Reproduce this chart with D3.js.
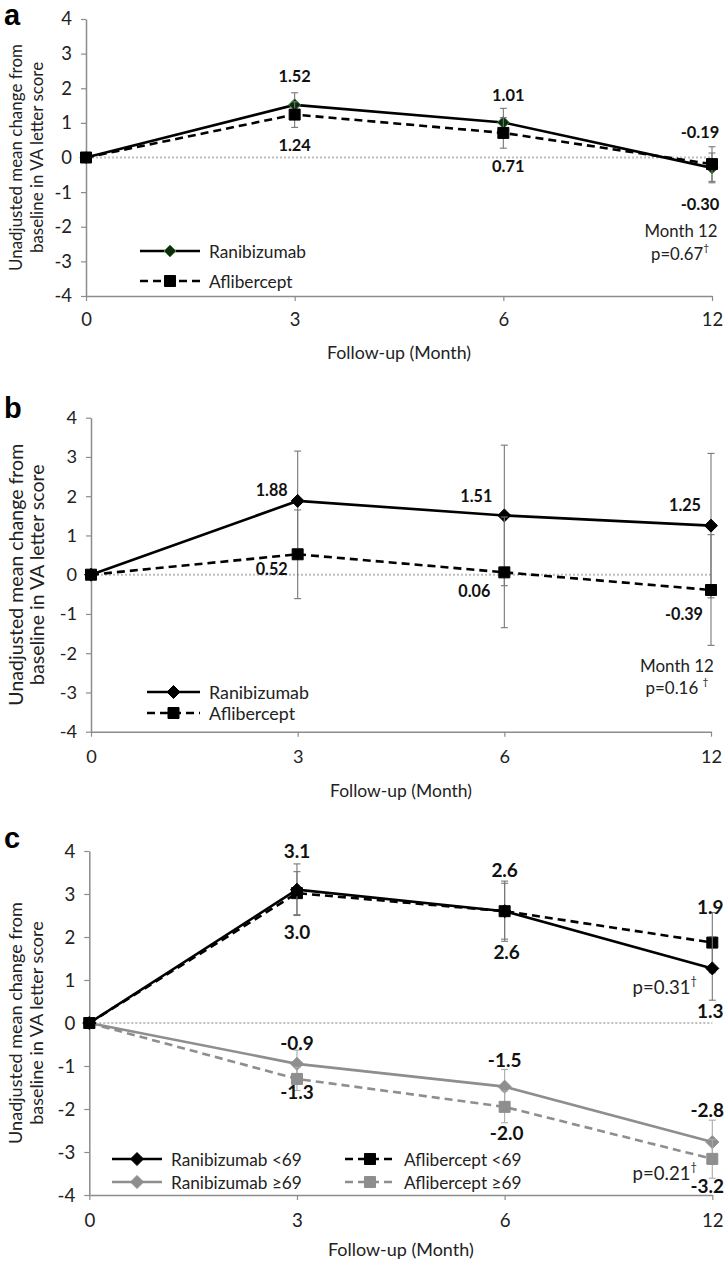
<!DOCTYPE html>
<html><head><meta charset="utf-8">
<script src="https://cdn.jsdelivr.net/npm/d3@7"></script>
<style>body{margin:0;background:#fff} svg{display:block}</style>
</head><body>
<svg id="chart" width="727" height="1261"></svg>
<script>
// ---------- data ----------
const months = ["0", "3", "6", "12"];
const yTicks = [-4, -3, -2, -1, 0, 1, 2, 3, 4];

// panel a
const aRan = [0, 1.52, 1.01, -0.30];
const aAfl = [0, 1.24, 0.71, -0.19];
const aRanErr = [0, 0.35, 0.41, 0.43];
const aAflErr = [0, 0.37, 0.44, 0.50];
const aRanLabels = ["", "1.52", "1.01", "-0.30"];
const aAflLabels = ["", "1.24", "0.71", "-0.19"];

// panel b
const bRan = [0, 1.88, 1.51, 1.25];
const bAfl = [0, 0.52, 0.06, -0.39];
const bRanErr = [0, 1.27, 1.79, 1.84];
const bAflErr = [0, 1.13, 1.41, 1.41];
const bRanLabels = ["", "1.88", "1.51", "1.25"];
const bAflLabels = ["", "0.52", "0.06", "-0.39"];

// panel c
const cRanLt = [0, 3.10, 2.60, 1.27];
const cAflLt = [0, 3.02, 2.60, 1.87];
const cRanGe = [0, -0.95, -1.48, -2.77];
const cAflGe = [0, -1.30, -1.95, -3.16];
const cRanLtErr = [0, 0.60, 0.70, 0.74];
const cAflLtErr = [0, 0.50, 0.65, 0.70];
const cRanGeErr = [0, 0.32, 0.40, 0.51];
const cAflGeErr = [0, 0.27, 0.37, 0.45];
const cRanLtLabels = ["", "3.1", "2.6", "1.3"];
const cAflLtLabels = ["", "3.0", "2.6", "1.9"];
const cRanGeLabels = ["", "-0.9", "-1.5", "-2.8"];
const cAflGeLabels = ["", "-1.3", "-2.0", "-3.2"];

const yTitle1 = "Unadjusted mean change from";
const yTitle2 = "baseline in VA letter score";
const xTitle = "Follow-up (Month)";

// ---------- helpers ----------
const FONT = "Lato, 'Open Sans', sans-serif";
const svg = d3.select("#chart");

// font size such that `txt` is `target` px wide
function fit(txt, target, weight) {
  const t = svg.append("text").attr("font-family", FONT).attr("font-size", 100)
    .attr("font-weight", weight || "normal").text(txt);
  const w = t.node().getComputedTextLength();
  t.remove();
  return 100 * target / w;
}

function diamond(r) { return `M0,${-r}L${r},0L0,${r}L${-r},0Z`; }
function square(r) { return `M${-r},${-r}H${r}V${r}H${-r}Z`; }

function makePanel(cfg) {
  const g = svg.append("g");
  const x = d3.scalePoint().domain(months).range([cfg.x0, cfg.x1]);
  const y = d3.scaleLinear().domain([-4, 4]).range([cfg.yBot, cfg.yTop]);
  const fs = fit(xTitle, cfg.xTitleW);
  const tfs = fit(yTitle1, cfg.yTitleW);

  // panel letter
  svg.append("text").attr("x", 4).attr("y", cfg.letterY)
    .attr("font-family", "'Liberation Sans', Arial, sans-serif")
    .attr("font-weight", "bold").attr("font-size", 29).attr("fill", "#000")
    .text(cfg.letter);

  // y axis
  const ya = g.append("g").attr("transform", `translate(${cfg.x0},0)`)
    .call(d3.axisLeft(y).tickValues(yTicks).tickSize(5).tickSizeOuter(0).tickPadding(9)
      .tickFormat(d => String(d)));
  ya.select(".domain").attr("stroke", "#8c8c8c").attr("stroke-width", 1.5);
  ya.selectAll(".tick line").attr("stroke", "#8c8c8c").attr("stroke-width", 1.2);
  ya.selectAll(".tick text").attr("font-family", FONT).attr("font-size", fs * 1.04).attr("fill", "#222");

  // x axis
  const xa = g.append("g").attr("transform", `translate(0,${cfg.yBot})`)
    .call(d3.axisBottom(x).tickSize(5).tickSizeOuter(0).tickPadding(cfg.xPad));
  xa.select(".domain").attr("stroke", "#8c8c8c").attr("stroke-width", 1.5);
  xa.selectAll(".tick line").attr("stroke", "#8c8c8c").attr("stroke-width", 1.2);
  xa.selectAll(".tick text").attr("font-family", FONT).attr("font-size", fs * 1.04).attr("fill", "#222");

  // zero line
  g.append("line").attr("x1", cfg.x0 + 2).attr("x2", cfg.x1).attr("y1", y(0)).attr("y2", y(0))
    .attr("stroke", "#bdbdbd").attr("stroke-width", 2).attr("stroke-dasharray", "2,2");

  // axis titles
  const cy = (cfg.yTop + cfg.yBot) / 2;
  [[yTitle1, 15], [yTitle2, 36]].forEach(([t, xx]) => {
    g.append("text").attr("transform", `translate(${xx},${cy}) rotate(-90)`)
      .attr("text-anchor", "middle").attr("dominant-baseline", "central")
      .attr("font-family", FONT).attr("font-size", tfs).attr("fill", "#222").text(t);
  });
  g.append("text").attr("x", (cfg.x0 + cfg.x1) / 2).attr("y", cfg.xTitleY)
    .attr("text-anchor", "middle").attr("dominant-baseline", "central")
    .attr("font-family", FONT).attr("font-size", fs).attr("fill", "#222").text(xTitle);

  return { g, x, y, fs };
}

function drawSeries(P, vals, errs, st) {
  const { g, x, y } = P;
  const pts = vals.map((v, i) => ({ m: months[i], v, e: errs[i] }));
  const eg = g.append("g").attr("stroke", st.errColor).attr("stroke-width", 1.1);
  pts.filter(d => d.e > 0).forEach(d => {
    const cx = x(d.m);
    eg.append("line").attr("x1", cx).attr("x2", cx).attr("y1", y(d.v + d.e)).attr("y2", y(d.v - d.e));
    [d.v + d.e, d.v - d.e].forEach(w => {
      eg.append("line").attr("x1", cx - 3.5).attr("x2", cx + 3.5).attr("y1", y(w)).attr("y2", y(w));
    });
  });
  g.append("path").datum(pts)
    .attr("d", d3.line().x(d => x(d.m)).y(d => y(d.v)))
    .attr("fill", "none").attr("stroke", st.color).attr("stroke-width", st.width || 2.6)
    .attr("stroke-dasharray", st.dash || null);
  g.selectAll(null).data(pts).enter().append("path")
    .attr("transform", d => `translate(${x(d.m)},${y(d.v)})`)
    .attr("d", st.marker === "diamond" ? diamond(st.size || 6.5) : square(st.size || 5.5))
    .attr("fill", st.fill || st.color).attr("stroke", st.stroke || st.color).attr("stroke-width", 1);
}

function drawLabels(P, vals, labels, offs, fs) {
  const { g, x, y } = P;
  labels.forEach((t, i) => {
    if (!t) return;
    g.append("text").attr("x", x(months[i]) + offs[i][0]).attr("y", y(vals[i]) + offs[i][1])
      .attr("text-anchor", "middle").attr("dominant-baseline", "central")
      .attr("font-family", FONT).attr("font-weight", "bold").attr("font-size", fs)
      .attr("fill", "#111").text(t);
  });
}

function noteText(g, xx, yy, main, fs, anchor, dagger) {
  const t = g.append("text").attr("x", xx).attr("y", yy).attr("text-anchor", anchor || "middle")
    .attr("dominant-baseline", "central").attr("font-family", FONT).attr("font-size", fs).attr("fill", "#222");
  t.append("tspan").text(main);
  if (dagger) t.append("tspan").attr("font-size", fs * 0.6).attr("dy", -fs * 0.35).text("\u2020");
  return t;
}

function legendItem(g, x1, x2, yy, st, label, fs) {
  g.append("line").attr("x1", x1).attr("x2", x2).attr("y1", yy).attr("y2", yy)
    .attr("stroke", st.color).attr("stroke-width", st.width || 2.6).attr("stroke-dasharray", st.dash || null);
  g.append("path").attr("transform", `translate(${(x1 + x2) / 2},${yy})`)
    .attr("d", st.marker === "diamond" ? diamond(st.size || 6.5) : square(st.size || 5.5))
    .attr("fill", st.fill || st.color).attr("stroke", st.stroke || st.color);
  g.append("text").attr("x", x2 + 9).attr("y", yy).attr("dominant-baseline", "central")
    .attr("font-family", FONT).attr("font-size", fs).attr("fill", "#222").text(label);
}

// ---------- styles ----------
const ranA = { color: "#000", marker: "diamond", size: 6, fill: "#0f2a0f", stroke: "#3d8f3d", errColor: "#777" };
const aflA = { color: "#000", marker: "square", dash: "8,5", errColor: "#777" };
const ranBk = { color: "#000", marker: "diamond", errColor: "#777" };
const aflBk = { color: "#000", marker: "square", dash: "8,5", errColor: "#777" };
const ranGr = { color: "#8e8e8e", marker: "diamond", errColor: "#aaa" };
const aflGr = { color: "#8e8e8e", marker: "square", dash: "8,5", errColor: "#aaa" };

// ---------- panel a ----------
const PA = makePanel({ letter: "a", letterY: 25, x0: 86, x1: 712, yTop: 19, yBot: 296,
  xTitleW: 144, yTitleW: 227, xPad: 12, xTitleY: 352 });
const aLab = fit("1.52", 32.5, "bold");
drawSeries(PA, aRan, aRanErr, ranA);
drawSeries(PA, aAfl, aAflErr, aflA);
drawLabels(PA, aRan, aRanLabels, [[0,0],[0,-29],[5,-28],[-12,36]], aLab);
drawLabels(PA, aAfl, aAflLabels, [[0,0],[0,30],[5,33],[-12,-33]], aLab);
noteText(PA.g, 681, 230, "Month 12", fit("Month 12", 73));
noteText(PA.g, 680, 253, "p=0.67", fit("Month 12", 73), "middle", true);
const aLeg = fit("Ranibizumab", 97);
legendItem(PA.g, 140, 200, 251, ranA, "Ranibizumab", aLeg);
legendItem(PA.g, 140, 200, 281, aflA, "Aflibercept", aLeg);

// ---------- panel b ----------
const PB = makePanel({ letter: "b", letterY: 418, x0: 91, x1: 711, yTop: 417.7, yBot: 731.7,
  xTitleW: 142, yTitleW: 262, xPad: 13, xTitleY: 790 });
const bLab = fit("1.88", 32, "bold");
drawSeries(PB, bRan, bRanErr, ranBk);
drawSeries(PB, bAfl, bAflErr, aflBk);
drawLabels(PB, bRan, bRanLabels, [[0,0],[-26,-11],[-28,-20],[-26,-21]], bLab);
drawLabels(PB, bAfl, bAflLabels, [[0,0],[-26,14],[-30,18],[-27,23]], bLab);
noteText(PB.g, 677, 665, "Month 12", fit("Month 12", 74));
noteText(PB.g, 677, 687, "p=0.16 ", fit("Month 12", 74), "middle", true);
const bLeg = fit("Ranibizumab", 100);
legendItem(PB.g, 147, 200, 692, ranBk, "Ranibizumab", bLeg);
legendItem(PB.g, 147, 200, 713, aflBk, "Aflibercept", bLeg);

// ---------- panel c ----------
const PC = makePanel({ letter: "c", letterY: 848, x0: 89.3, x1: 712.3, yTop: 851, yBot: 1195,
  xTitleW: 146, yTitleW: 242, xPad: 14, xTitleY: 1249 });
const cLab = fit("3.1", 26.5, "bold");
drawSeries(PC, cRanGe, cRanGeErr, ranGr);
drawSeries(PC, cAflGe, cAflGeErr, aflGr);
drawSeries(PC, cAflLt, cAflLtErr, aflBk);
drawSeries(PC, cRanLt, cRanLtErr, ranBk);
drawLabels(PC, cRanLt, cRanLtLabels, [[0,0],[0,-39],[0,-42],[-2,42]], cLab);
drawLabels(PC, cAflLt, cAflLtLabels, [[0,0],[0,38],[2,40],[-2,-36]], cLab);
drawLabels(PC, cRanGe, cRanGeLabels, [[0,0],[0,-21],[0,-27],[-5,-33]], cLab);
drawLabels(PC, cAflGe, cAflGeLabels, [[0,0],[0,13],[2,26],[-5,27]], cLab);
const pfs = fit("p=0.31", 58);
noteText(PC.g, 697, 987, "p=0.31", pfs, "end", true);
noteText(PC.g, 697, 1173, "p=0.21", pfs, "end", true);
const cLeg = fit("Ranibizumab <69", 131);
legendItem(PC.g, 112, 162, 1159, ranBk, "Ranibizumab <69", cLeg);
legendItem(PC.g, 112, 162, 1182, ranGr, "Ranibizumab \u226569", cLeg);
legendItem(PC.g, 345, 395, 1159, aflBk, "Aflibercept <69", cLeg);
legendItem(PC.g, 345, 395, 1182, aflGr, "Aflibercept \u226569", cLeg);
</script>
</body></html>
